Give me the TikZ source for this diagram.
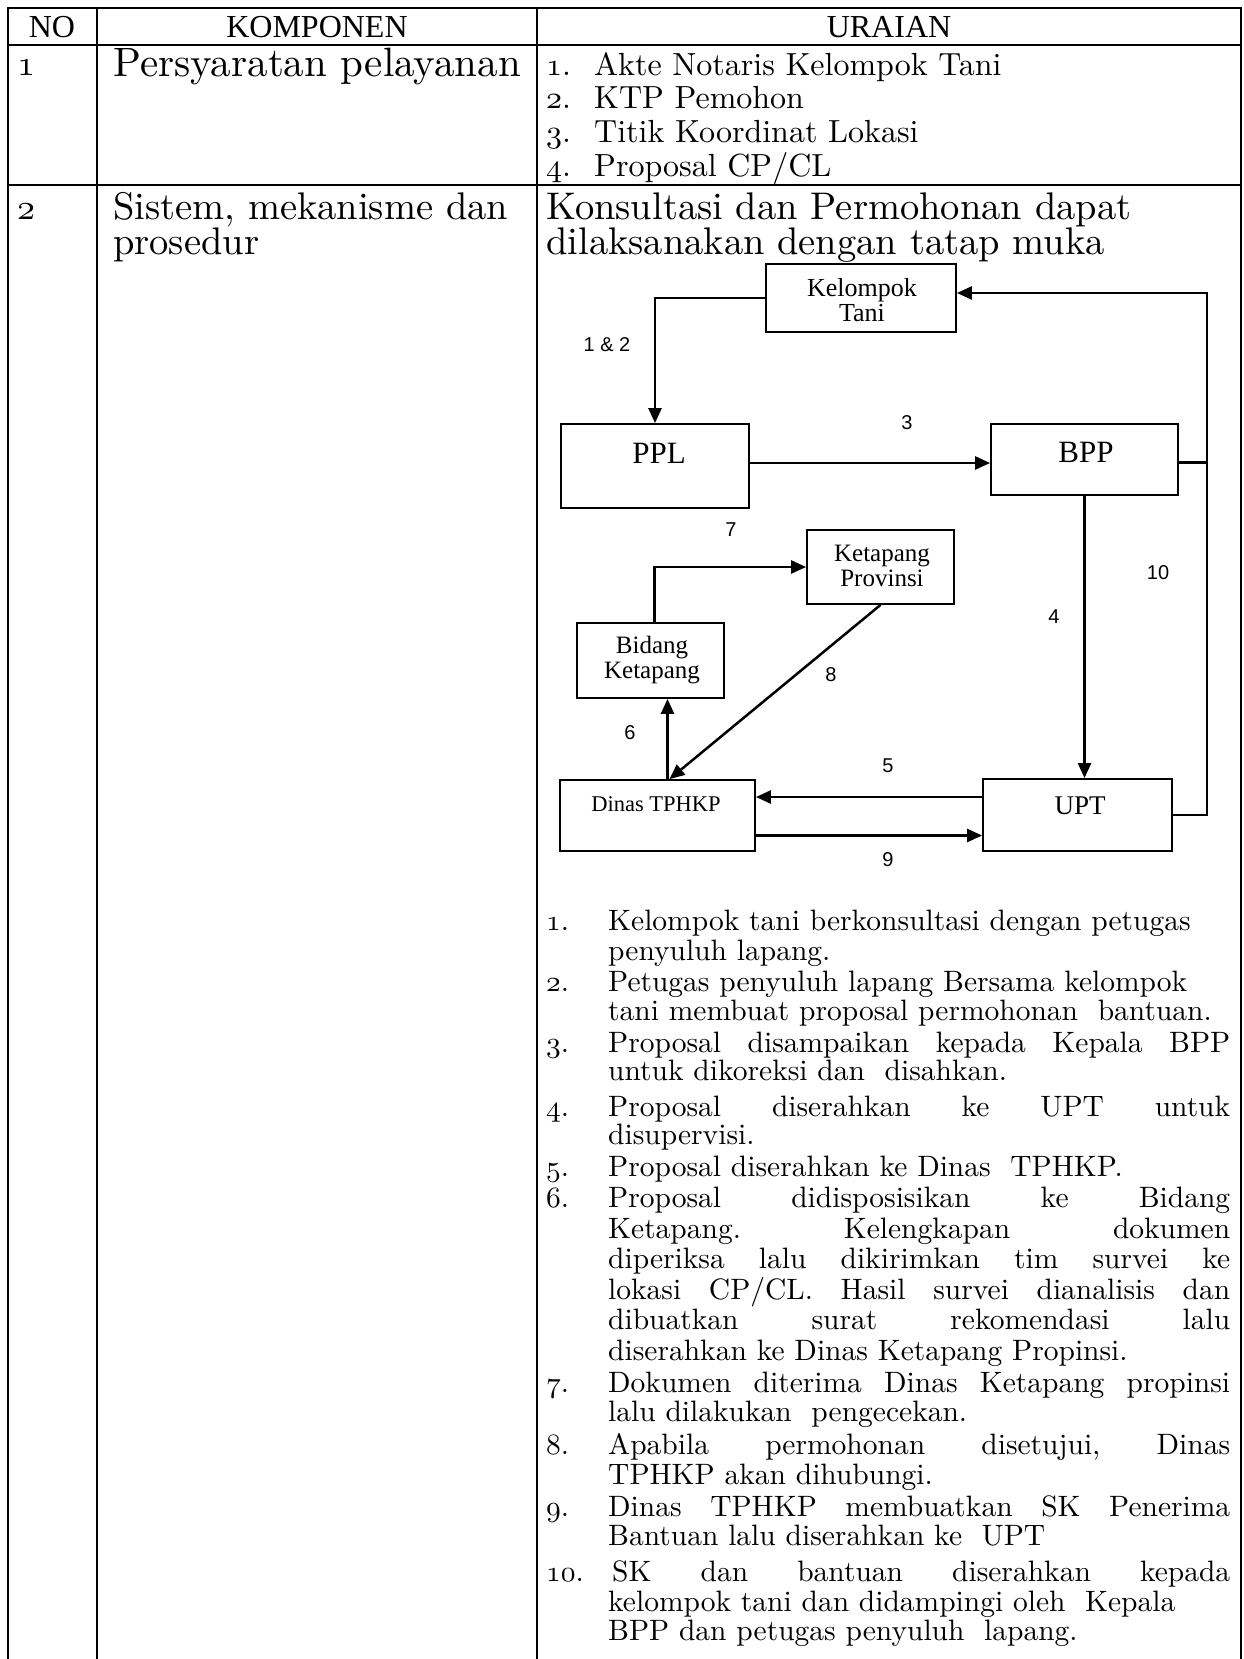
\documentclass[tikz,border=0pt]{standalone}
\usepackage{graphicx}
\usepackage{fontspec}
\setmainfont{lmroman10-regular}[Extension=.otf, BoldFont=lmroman10-bold]
\newfontfamily\timesf{Liberation Serif}
\newfontfamily\arialf{Liberation Sans}
\usetikzlibrary{arrows.meta}
% old-style figures from the Latin Modern math italic font, set at 10pt and scaled
\newcommand\ofig[2][2.95]{\scalebox{#1}{\fontsize{10pt}{12pt}\usefont{OML}{lmm}{b}{it}#2}}
\newcommand\jline[1]{\makebox[622pt][s]{#1}}
\frenchspacing
\begin{document}
\begin{tikzpicture}[x=1pt,y=-1pt,
  rule/.style={line width=2.2pt},
  box/.style={draw, line width=1.8pt, inner sep=0pt},
  arr/.style={line width=2.5pt, -{Triangle[length=15pt,width=13pt]}},
  link/.style={line width=2.5pt},
  lbl/.style={font=\timesf\fontsize{25pt}{28pt}\selectfont, inner sep=0pt, align=center},
  biglbl/.style={font=\timesf\fontsize{31pt}{32pt}\selectfont, inner sep=0pt},
  num/.style={font=\arialf\fontsize{20pt}{22pt}\selectfont, inner sep=0pt},
  hdr/.style={font=\timesf\fontsize{32pt}{34pt}\selectfont, inner sep=0pt},
  big/.style={font=\fontsize{39.5pt}{40pt}\selectfont, inner sep=0pt, anchor=mid west},
  req/.style={font=\fontsize{32pt}{34pt}\selectfont, inner sep=0pt, anchor=mid west},
  body/.style={font=\fontsize{29.5pt}{30pt}\selectfont, inner sep=0pt, anchor=mid west},
]
\useasboundingbox[fill=white] (0,0) rectangle (1244,1659);

% table frame
\draw[rule] (8,1659) -- (8,8) -- (1241,8) -- (1241,1659);
\draw[rule] (97,8) -- (97,1659);
\draw[rule] (537,8) -- (537,1659);
\draw[rule] (8,45) -- (1241,45);
\draw[rule] (8,185) -- (1241,185);

% header
\node[hdr] (hno) at (52,27.5) {NO};
\node[hdr] (hkomp) at (317,27.5) {KOMPONEN};
\node[hdr] (hur) at (889,27.5) {URAIAN};

% row 1
\node[big] (no1) at (17,73) {\ofig[3.6]{1}};
\node[big, font=\fontsize{41pt}{42pt}\selectfont] (k1) at (113,74) {Persyaratan pelayanan};
\node[req] (r1n) at (546,73) {\ofig[3.2]{1}.};
\node[req] (r1t) at (594,73) {Akte Notaris Kelompok Tani};
\node[req] (r2n) at (546,106) {\ofig[3.2]{2}.};
\node[req] (r2t) at (594,106) {KTP Pemohon};
\node[req] (r3n) at (546,140.5) {\ofig[3.2]{3}.};
\node[req] (r3t) at (594,140.5) {Titik Koordinat Lokasi};
\node[req] (r4n) at (546,174) {\ofig[3.2]{4}.};
\node[req] (r4t) at (594,174) {Proposal CP/CL};

% row 2
\node[big] (no2) at (17,217) {\ofig[3.6]{2}};
\node[big, font=\fontsize{38.5pt}{40pt}\selectfont] (k2a) at (113,217) {Sistem, mekanisme dan};
\node[big, font=\fontsize{38.5pt}{40pt}\selectfont] (k2b) at (113,252) {prosedur};
\node[big, font=\fontsize{38.5pt}{40pt}\selectfont] (u2a) at (546,217) {Konsultasi dan Permohonan dapat};
\node[big, font=\fontsize{38.5pt}{40pt}\selectfont] (u2b) at (546,252) {dilaksanakan dengan tatap muka};

% flow diagram boxes
\node[box, minimum width=190pt, minimum height=68pt] (kt) at (861,298) {};
\node[box, minimum width=188pt, minimum height=84pt] (ppl) at (655,466) {};
\node[box, minimum width=187pt, minimum height=71pt] (bpp) at (1084.5,459.5) {};
\node[box, minimum width=147pt, minimum height=74pt] (kp) at (880.5,567) {};
\node[box, minimum width=147pt, minimum height=75pt] (bk) at (650.5,660.5) {};
\node[box, minimum width=195pt, minimum height=71pt] (dt) at (657.5,815.5) {};
\node[box, minimum width=189pt, minimum height=72pt] (upt) at (1077.5,815) {};

% box texts
\node[lbl, font=\timesf\fontsize{26pt}{28pt}\selectfont] (ktt) at (862,300) {Kelompok\\[-3pt]Tani};
\node[biglbl] (pplt) at (659,453) {PPL};
\node[biglbl] (bppt) at (1086,452) {BPP};
\node[lbl] (kpt) at (882,566) {Ketapang\\[-3pt]Provinsi};
\node[lbl] (bkt) at (652,660) {Bidang\\[-3pt]Ketapang};
\node[lbl, font=\timesf\fontsize{22.5pt}{28pt}\selectfont] (dtt) at (656,804) {Dinas TPHKP};
\node[lbl, font=\timesf\fontsize{27pt}{30pt}\selectfont] (uptt) at (1080,806) {UPT};

% connectors
\draw[arr] (kt.west) -| (ppl.north);
\draw[arr] ([yshift=3pt]ppl.east) -- ([yshift=3pt]ppl.east -| bpp.west);
\draw[arr] (bpp.south) -- (bpp.south |- upt.north);
\draw[arr] ([yshift=18pt]upt.west) -- ([yshift=18pt]upt.west -| dt.east);
\draw[arr] ([yshift=-20pt]dt.east) -- ([yshift=-20pt]dt.east -| upt.west);
\draw[arr] ([xshift=10pt]dt.north) -- ([xshift=10pt]dt.north |- bk.south);
\draw[arr] ([xshift=4pt]bk.north) |- (kp.west);
\draw[arr] (kp.south) -- ([xshift=12pt]dt.north);
\coordinate (rt) at (1207,293);
\draw[link] ([yshift=-3pt]bpp.east) -- ([yshift=-3pt]bpp.east -| rt);
\draw[arr] (upt.east) -| (rt) -- (rt -| kt.east);

% step numbers on the connectors
\node[num] (n12) at (607,345) {1 \& 2};
\node[num] (n3) at (907,423) {3};
\node[num] (n7) at (731,530) {7};
\node[num] (n10) at (1158,573) {10};
\node[num] (n4) at (1054,617) {4};
\node[num] (n8) at (831,675) {8};
\node[num] (n6) at (630,733) {6};
\node[num] (n5) at (888,766) {5};
\node[num] (n9) at (888,860) {9};

% numbered description
\node[body] (m1) at (546,928) {\ofig{1}.};
\node[body] (l1) at (608,928) {Kelompok tani berkonsultasi dengan petugas};
\node[body] (l2) at (608,958) {penyuluh lapang.};
\node[body] (m2) at (546,989) {\ofig{2}.};
\node[body] (l3) at (608,989) {Petugas penyuluh lapang Bersama kelompok};
\node[body] (l4) at (608,1018.5) {tani membuat proposal permohonan\ \ bantuan.};
\node[body] (m3) at (546,1050) {\ofig{3}.};
\node[body] (l5) at (608,1050) {\jline{Proposal disampaikan kepada Kepala BPP}};
\node[body] (l6) at (608,1078.5) {untuk dikoreksi dan\ \ disahkan.};
\node[body] (m4) at (546,1114) {\ofig{4}.};
\node[body] (l7) at (608,1114) {\jline{Proposal diserahkan ke UPT untuk}};
\node[body] (l8) at (608,1142.5) {disupervisi.};
\node[body] (m5) at (546,1174) {\ofig{5}.};
\node[body] (l9) at (608,1174) {Proposal diserahkan ke Dinas\ \ TPHKP.};
\node[body] (m6) at (546,1205.5) {\ofig{6}.};
\node[body] (l10) at (608,1205.5) {\jline{Proposal didisposisikan ke Bidang}};
\node[body] (l11) at (608,1236) {\jline{Ketapang. Kelengkapan dokumen}};
\node[body] (l12) at (608,1266) {\jline{diperiksa lalu dikirimkan tim survei ke}};
\node[body] (l13) at (608,1297) {\jline{lokasi CP/CL. Hasil survei dianalisis dan}};
\node[body] (l14) at (608,1327) {\jline{dibuatkan surat rekomendasi lalu}};
\node[body] (l15) at (608,1358) {diserahkan ke Dinas Ketapang Propinsi.};
\node[body] (m7) at (546,1390) {\ofig{7}.};
\node[body] (l16) at (608,1390) {\jline{Dokumen diterima Dinas Ketapang propinsi}};
\node[body] (l17) at (608,1419.5) {lalu dilakukan\ \ pengecekan.};
\node[body] (m8) at (546,1452) {\ofig{8}.};
\node[body] (l18) at (608,1452) {\jline{Apabila permohonan disetujui, Dinas}};
\node[body] (l19) at (608,1482) {TPHKP akan dihubungi.};
\node[body] (m9) at (546,1514.5) {\ofig{9}.};
\node[body] (l20) at (608,1514.5) {\jline{Dinas TPHKP membuatkan SK Penerima}};
\node[body] (l21) at (608,1543.5) {Bantuan lalu diserahkan ke\ \ UPT};
\node[body] (m10) at (546,1579) {\ofig{10}.};
\node[body] (l22) at (612,1579) {\makebox[618pt][s]{SK dan bantuan diserahkan kepada}};
\node[body] (l23) at (608,1609) {kelompok tani dan didampingi oleh\ \ Kepala};
\node[body] (l24) at (608,1638) {BPP dan petugas penyuluh\ \ lapang.};
\end{tikzpicture}
\end{document}
